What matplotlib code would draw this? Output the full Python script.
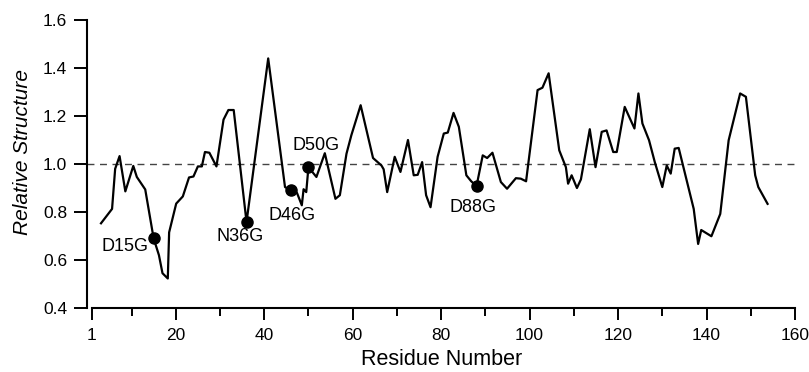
import numpy as np
import matplotlib
matplotlib.use("Agg")
import matplotlib.pyplot as plt
from matplotlib.ticker import FixedLocator

plt.rcParams['font.family'] = ['Liberation Sans', 'DejaVu Sans']

# Relative structure per residue
residue = [3.1, 5.6, 6.3, 7.3, 8.6, 10.4, 11.2, 13.1, 15.0, 16.2, 17.0, 18.2,
           18.5, 20.1, 21.6, 23.0, 24.0, 25.0, 25.9, 26.6, 27.6, 29.2, 30.8,
           31.9, 33.1, 36.0, 40.9, 44.7, 46.0, 47.4, 48.5, 48.9, 49.5, 50.0,
           51.8, 53.7, 56.1, 57.1, 58.6, 59.7, 61.8, 64.6, 66.5, 67.0, 67.8,
           69.5, 70.8, 72.5, 73.8, 74.7, 75.7, 76.6, 77.6, 79.2, 80.6, 81.5,
           82.8, 84.0, 85.7, 86.8, 88.0, 89.4, 90.4, 91.6, 93.5, 94.9, 96.9,
           98.0, 99.2, 101.8, 102.9, 104.3, 106.7, 108.2, 108.7, 109.5, 110.7,
           111.6, 113.6, 114.9, 116.3, 117.4, 118.9, 119.7, 121.5, 123.7,
           124.6, 125.5, 127.0, 128.3, 130.0, 131.0, 131.9, 132.8, 133.7,
           137.1, 138.1, 138.8, 141.1, 143.1, 145.0, 147.6, 148.9, 151.0,
           151.7, 153.8]
structure = [0.753, 0.813, 0.98, 1.033, 0.886, 0.992, 0.946, 0.894, 0.69, 0.62,
             0.545, 0.523, 0.715, 0.835, 0.865, 0.944, 0.948, 0.99, 0.99, 1.05,
             1.047, 0.99, 1.185, 1.225, 1.225, 0.758, 1.44, 0.904, 0.89, 0.88,
             0.828, 0.895, 0.883, 0.987, 0.946, 1.045, 0.855, 0.87, 1.043,
             1.12, 1.245, 1.025, 0.994, 0.978, 0.883, 1.03, 0.967, 1.1, 0.953,
             0.955, 1.008, 0.87, 0.82, 1.03, 1.127, 1.131, 1.213, 1.155, 0.953,
             0.928, 0.908, 1.036, 1.025, 1.047, 0.925, 0.897, 0.941, 0.939,
             0.928, 1.308, 1.318, 1.378, 1.057, 0.987, 0.918, 0.953, 0.9,
             0.936, 1.145, 0.987, 1.134, 1.14, 1.05, 1.05, 1.238, 1.148, 1.294,
             1.169, 1.099, 1.008, 0.904, 0.994, 0.96, 1.064, 1.067, 0.813,
             0.667, 0.725, 0.699, 0.792, 1.099, 1.294, 1.28, 0.953, 0.904,
             0.834]

# Mutants
mutants = ["D15G", "N36G", "D46G", "D50G", "D88G"]
mutant_residue = [15.0, 36.0, 46.0, 50.0, 88.0]
mutant_value = [0.69, 0.758, 0.89, 0.987, 0.908]

x_ticks = [1, 20, 40, 60, 80, 100, 120, 140, 160]
x_minor = [10, 30, 50, 70, 90, 110, 130, 150]
y_ticks = [0.4, 0.6, 0.8, 1.0, 1.2, 1.4, 1.6]

fig = plt.figure(figsize=(8.09, 3.72), dpi=100)
ax = fig.add_axes([0.1079, 0.172, 0.8748, 0.7742])

ax.axhline(1.0, color="#444444", lw=1.0, ls=(0, (5, 4)), zorder=1)
ax.plot(residue, structure, color="black", lw=1.6, zorder=2)
ax.plot(mutant_residue, mutant_value, "o", color="black", ms=8, zorder=3)

# label placement (data coords)
label_pos = {
    "D15G": (8.5, 0.657),
    "N36G": (34.6, 0.70),
    "D46G": (46.2, 0.785),
    "D50G": (51.8, 1.078),
    "D88G": (87.2, 0.82),
}
for name in mutants:
    lx, ly = label_pos[name]
    ax.text(lx, ly, name, ha="center", va="center", fontsize=13)

ax.set_xlim(0, 160)
ax.set_ylim(0.4, 1.6)
ax.spines["top"].set_visible(False)
ax.spines["right"].set_visible(False)
ax.spines["left"].set_bounds(0.4, 1.6)
ax.spines["bottom"].set_bounds(1, 160)
for s in ("left", "bottom"):
    ax.spines[s].set_linewidth(1.5)

ax.xaxis.set_major_locator(FixedLocator(x_ticks))
ax.xaxis.set_minor_locator(FixedLocator(x_minor))
ax.set_yticks(y_ticks)
ax.set_yticklabels([f"{v:.1f}" for v in y_ticks])

ax.tick_params(axis="x", which="major", direction="out", length=8.5, width=1.4,
               pad=6, labelsize=12.5)
ax.tick_params(axis="x", which="minor", direction="out", length=5.5, width=1.4)
ax.tick_params(axis="y", which="major", direction="out", length=9.5, width=1.4,
               pad=5, labelsize=12.5)

ax.set_xlabel("Residue Number", fontsize=15.5, labelpad=4)
ax.set_ylabel("Relative Structure", fontsize=15, style="italic")
ax.yaxis.set_label_coords(-0.078, 0.54)

fig.savefig("out.png", dpi=100)
